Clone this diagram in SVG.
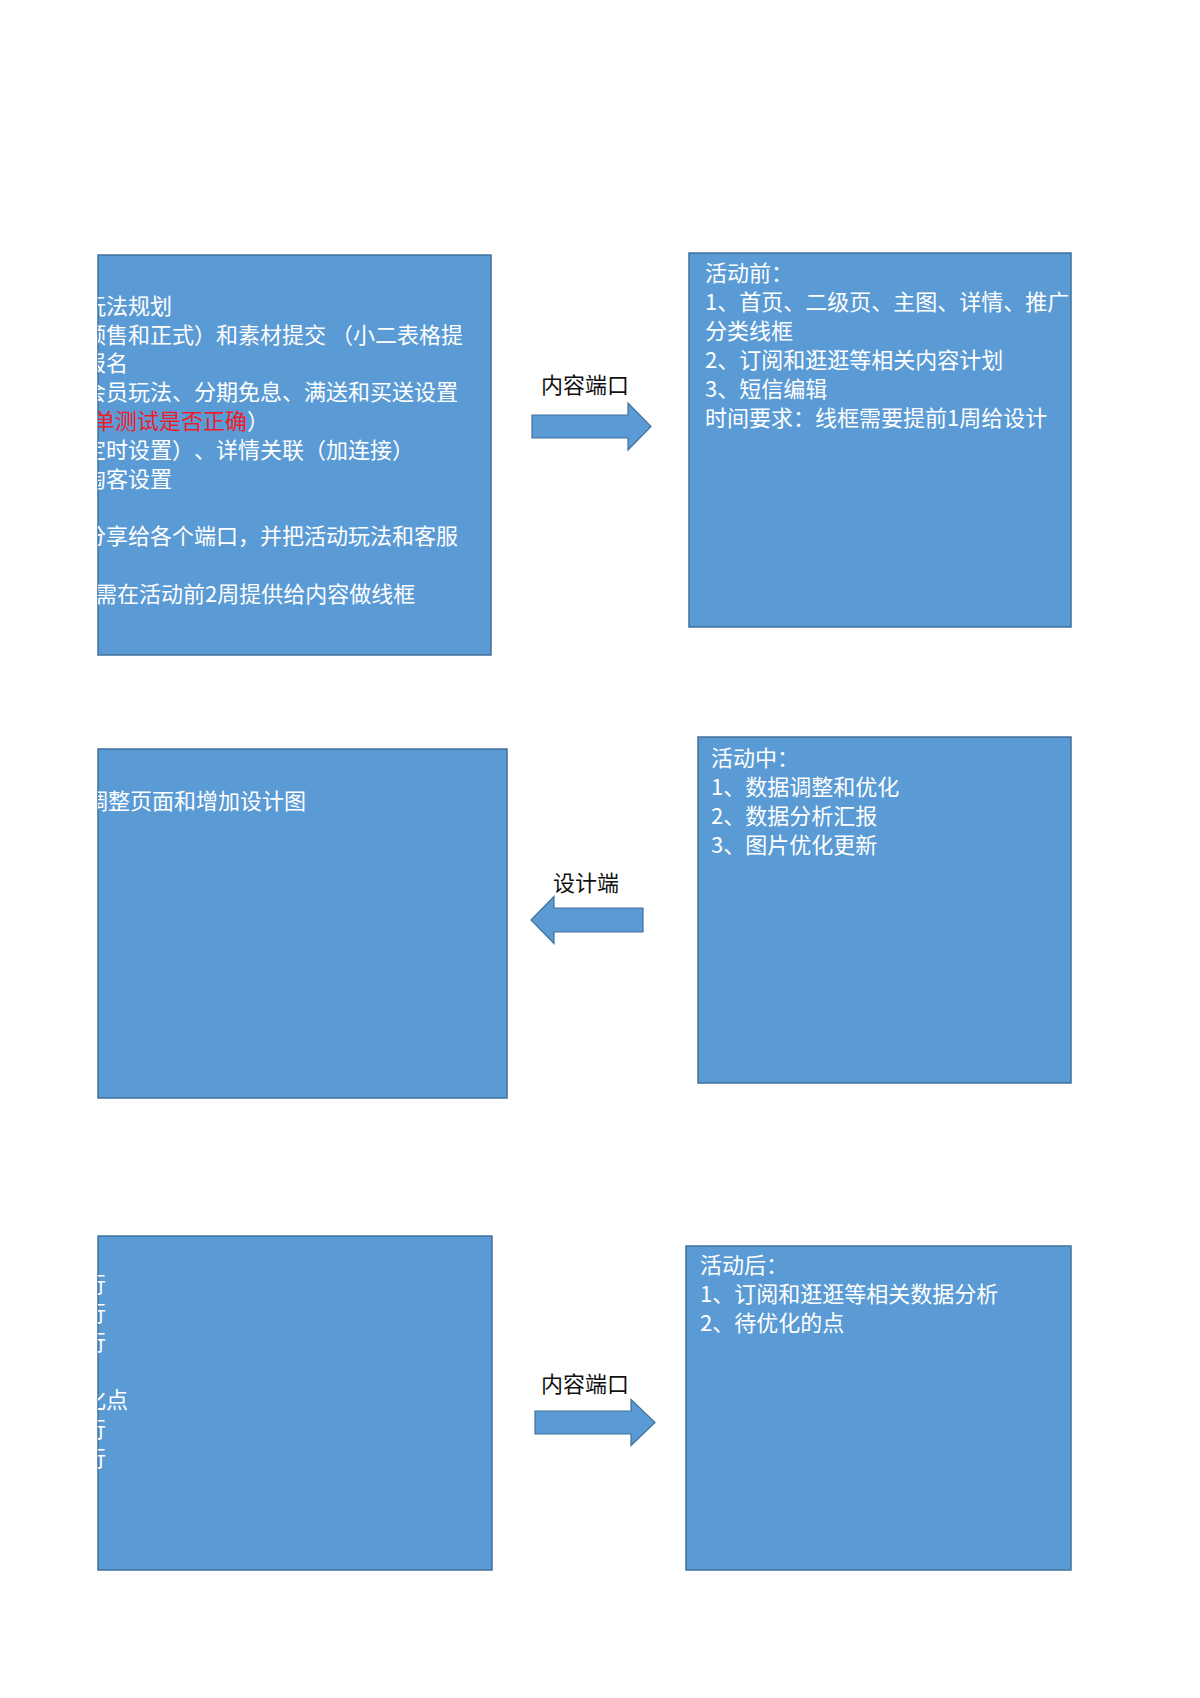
<svg xmlns="http://www.w3.org/2000/svg" width="1200" height="1698" viewBox="0 0 1200 1698">
<style>
.box{fill:#5B9BD5;stroke:#41719C;stroke-width:1.5}
.arrow{fill:#5B9BD5;stroke:#41719C;stroke-width:1.2}
.t{font-family:"Noto Sans CJK SC","Noto Sans",sans-serif;font-size:22px;fill:#FFFFFF;text-spacing-trim:space-all}
.red{fill:#EE1C2A}
.lbl{font-family:"Noto Sans CJK SC","Noto Sans",sans-serif;font-size:22px;fill:#111111}
</style>
<defs>
<clipPath id="cA"><rect x="98" y="255" width="393" height="400"/></clipPath>
<clipPath id="cB"><rect x="689" y="253" width="382" height="374"/></clipPath>
<clipPath id="cC"><rect x="98" y="749" width="409" height="349"/></clipPath>
<clipPath id="cE"><rect x="98" y="1236" width="394" height="334"/></clipPath>
</defs>
<rect x="0" y="0" width="1200" height="1698" fill="#FFFFFF"/>

<g id="node-plan">
<rect class="box" x="98" y="255" width="393" height="400"/>
<g clip-path="url(#cA)">
<text class="t" x="84" y="313.7">玩法规划</text>
<text class="t" x="84" y="342.5">预售和正式）和素材提交 （小二表格提</text>
<text class="t" x="84" y="371.3">报名</text>
<text class="t" x="84" y="400.1">会员玩法、分期免息、满送和买送设置</text>
<text class="t" x="93" y="428.9"><tspan class="red">单测试是否正确</tspan>）</text>
<text class="t" x="84" y="457.7">定时设置）、详情关联（加连接）</text>
<text class="t" x="84" y="486.5">淘客设置</text>
<text class="t" x="84" y="544.1">分享给各个端口，并把活动玩法和客服</text>
<text class="t" x="95" y="601.7">需在活动前2周提供给内容做线框</text>
</g>
</g>

<g id="node-before">
<rect class="box" x="689" y="253" width="382" height="374"/>
<g clip-path="url(#cB)">
<text class="t" x="705" y="281">活动前：</text>
<text class="t" x="705" y="310">1、首页、二级页、主图、详情、推广</text>
<text class="t" x="705" y="339">分类线框</text>
<text class="t" x="705" y="368">2、订阅和逛逛等相关内容计划</text>
<text class="t" x="705" y="397">3、短信编辑</text>
<text class="t" x="705" y="426">时间要求：线框需要提前1周给设计</text>
</g>
</g>

<g id="node-design">
<rect class="box" x="98" y="749" width="409" height="349"/>
<g clip-path="url(#cC)">
<text class="t" x="86" y="808.7">调整页面和增加设计图</text>
</g>
</g>

<g id="node-during">
<rect class="box" x="698" y="737" width="373" height="346"/>
<text class="t" x="711" y="766">活动中：</text>
<text class="t" x="711" y="795">1、数据调整和优化</text>
<text class="t" x="711" y="824">2、数据分析汇报</text>
<text class="t" x="711" y="853">3、图片优化更新</text>
</g>

<g id="node-review">
<rect class="box" x="98" y="1236" width="394" height="334"/>
<g clip-path="url(#cE)">
<text class="t" x="84" y="1292">行</text>
<text class="t" x="84" y="1321">行</text>
<text class="t" x="84" y="1350">行</text>
<text class="t" x="84" y="1408">化点</text>
<text class="t" x="84" y="1437">行</text>
<text class="t" x="84" y="1466">行</text>
</g>
</g>

<g id="node-after">
<rect class="box" x="686" y="1246" width="385" height="324"/>
<text class="t" x="700" y="1273">活动后：</text>
<text class="t" x="700" y="1302">1、订阅和逛逛等相关数据分析</text>
<text class="t" x="700" y="1331">2、待优化的点</text>
</g>

<g id="connectors">
<g id="arrow-content-1">
<polygon class="arrow" points="532,415 628,415 628,403 651,426.5 628,450 628,438 532,438"/>
<text class="lbl" x="541" y="393">内容端口</text>
</g>
<g id="arrow-design">
<polygon class="arrow" points="531,920 554,896.5 554,908 643,908 643,932 554,932 554,943.5"/>
<text class="lbl" x="553" y="891">设计端</text>
</g>
<g id="arrow-content-2">
<polygon class="arrow" points="535,1411 631,1411 631,1399.5 655,1422.5 631,1445.5 631,1434 535,1434"/>
<text class="lbl" x="541" y="1392">内容端口</text>
</g>
</g>
</svg>
